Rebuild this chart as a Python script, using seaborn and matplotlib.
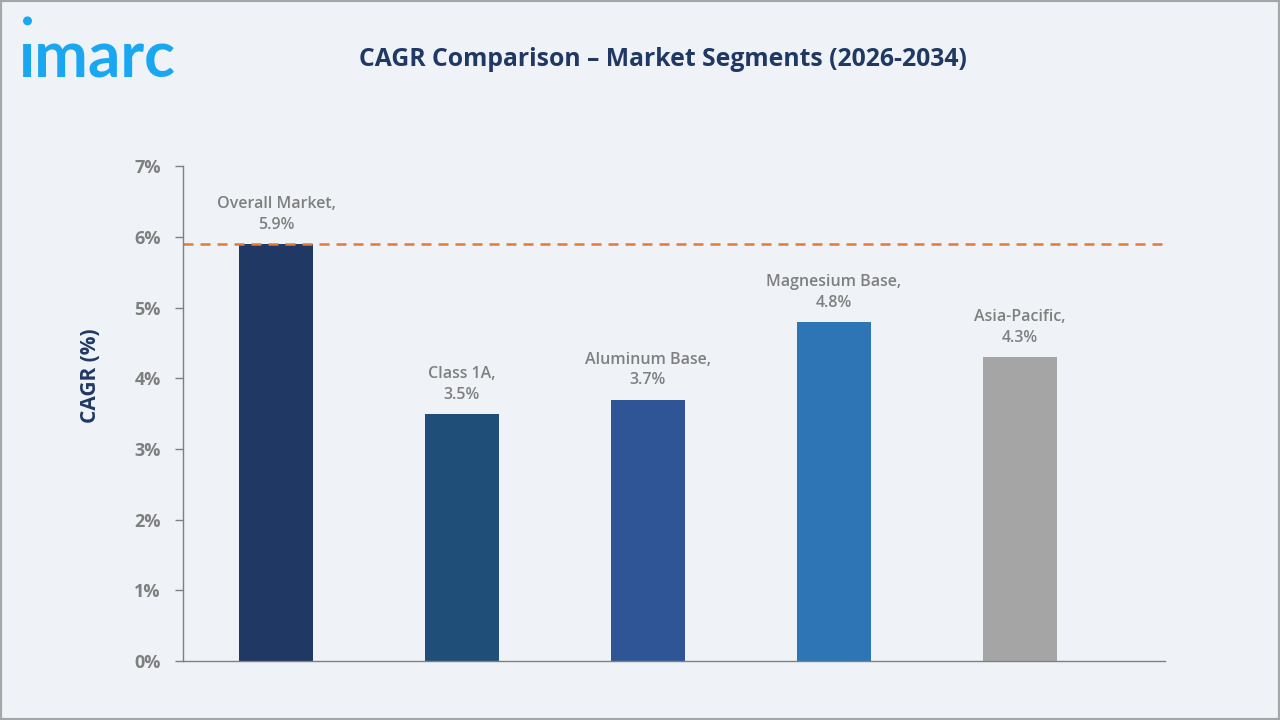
import pandas as pd
import matplotlib.pyplot as plt
import seaborn as sns
from matplotlib.patches import Rectangle, Ellipse

sns.set_theme(style="white")
plt.rcParams['font.family'] = ['Open Sans', 'DejaVu Sans']

# Data
segments = ['Overall Market', 'Class 1A', 'Aluminum Base', 'Magnesium Base', 'Asia-Pacific']
cagr = [5.9, 3.5, 3.7, 4.8, 4.3]
bar_colors = ['#203864', '#1F4E79', '#2F5597', '#2E75B6', '#A5A5A5']
y_ticks = [0, 1, 2, 3, 4, 5, 6, 7]
overall_line = 5.9

df = pd.DataFrame({'Segment': segments, 'CAGR': cagr})

BG = '#EFF3F8'
GREY = '#7F7F7F'
NAVY = '#203864'
LOGO = '#1AA7F2'

fig = plt.figure(figsize=(12.8, 7.2), dpi=100, facecolor=BG)
ax = fig.add_axes([0.143, 0.082, 0.767, 0.687])
ax.set_facecolor(BG)

sns.barplot(data=df, x='Segment', y='CAGR', hue='Segment', palette=bar_colors,
            order=segments, hue_order=segments, width=0.4, legend=False,
            saturation=1, linewidth=0, ax=ax)

ax.axhline(overall_line, color='#E07B39', lw=1.8, ls=(0, (4, 2.8)), zorder=1)

for i, (name, val) in enumerate(zip(segments, cagr)):
    ax.annotate(f"{name},\n{val}%", (i, val), xytext=(0, 8), textcoords='offset points',
                ha='center', va='bottom', fontsize=11.5, color=GREY,
                fontweight='semibold', linespacing=1.4)

ax.set_xlim(-0.5, 4.78)
ax.set_ylim(0, 7)
ax.set_yticks(y_ticks)
ax.set_yticklabels([f"{t}%" for t in y_ticks], fontsize=13, color=GREY, fontweight='bold')
ax.set_xticks([])
ax.set_xlabel('')
ax.set_ylabel('CAGR (%)', fontsize=15, fontweight='bold', color=NAVY)
ax.yaxis.set_label_coords(-0.084, 0.576)
ax.tick_params(axis='y', left=True, length=6, width=1, color=GREY, pad=10)

for s in ['top', 'right']:
    ax.spines[s].set_visible(False)
for s in ['left', 'bottom']:
    ax.spines[s].set_color(GREY)
    ax.spines[s].set_linewidth(1)

fig.text(0.518, 0.917, 'CAGR Comparison – Market Segments (2026-2034)', ha='center', va='center',
         fontsize=17.8, fontweight='bold', color=NAVY)

# logo text
fig.text(0.015, 0.918, 'ımarc', ha='left', va='center', fontsize=46, fontweight='bold',
         color=LOGO, family=['Lato', 'DejaVu Sans'])
fig.patches.append(Ellipse((0.0215, 0.971), 0.0105 * 720 / 1280, 0.0105 * 1.0,
                           transform=fig.transFigure, color=LOGO, figure=fig))

fig.patches.append(Rectangle((0, 0), 1, 1, transform=fig.transFigure, fill=False,
                             edgecolor='#A6A6A6', lw=3, figure=fig))

plt.savefig('out.png', dpi=100, facecolor=BG)
plt.close()
